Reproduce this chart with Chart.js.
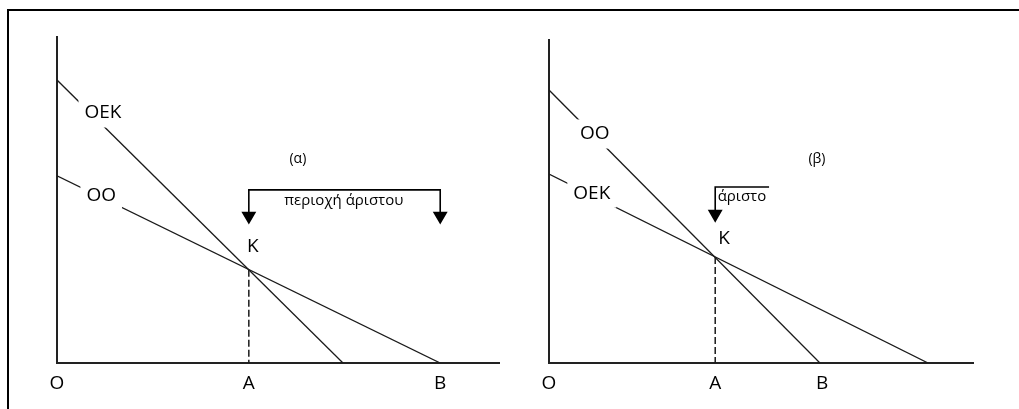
<!DOCTYPE html>
<html>
<head>
<meta charset="utf-8">
<script src="https://cdn.jsdelivr.net/npm/chart.js@4.4.0/dist/chart.umd.min.js"></script>
<style>
body{margin:0;background:#fff;width:1019px;height:409px;overflow:hidden;position:relative;}
#frame{position:absolute;left:7px;top:9px;width:1030px;height:420px;border-top:2px solid #000;border-left:2px solid #000;}
canvas{position:absolute;top:0;}
#chartA{left:0;}
#chartB{left:520px;}
</style>
</head>
<body>
<div id="frame"></div>
<canvas id="chartA" width="520" height="409"></canvas>
<canvas id="chartB" width="499" height="409"></canvas>
<script>
// panel (α): OEK steeper than OO
const ticksA = [0, 43.4, 86.7];
const tickLabelsA = ['O', 'A', 'B'];
const oekA = [{x: 0, y: 86.8}, {x: 64.7, y: 0}];
const ooA = [{x: 0, y: 57.4}, {x: 86.7, y: 0}];
const dropA = [{x: 43.4, y: 28.6}, {x: 43.4, y: 0}];
const bracketA = [{x: 43.4, y: 45.1}, {x: 43.4, y: 53.1}, {x: 86.7, y: 53.1}, {x: 86.7, y: 45.1}];
const arrowsA = [7, 0, 0, 7];

// panel (β): OO steeper than OEK
const ticksB = [0, 39.2, 64.4];
const tickLabelsB = ['O', 'A', 'B'];
const ooB = [{x: 0, y: 84.5}, {x: 63.9, y: 0}];
const oekB = [{x: 0, y: 58.5}, {x: 89.4, y: 0}];
const dropB = [{x: 39.2, y: 32.8}, {x: 39.2, y: 0}];
const bracketB = [{x: 39.2, y: 46.1}, {x: 39.2, y: 54.5}, {x: 51.9, y: 54.5}];
const arrowsB = [7, 0, 0];

// text on the diagrams (data units)
const notesA = [
    {text: 'OEK', x: 10.4, y: 76.7, size: 19, box: true},
    {text: 'OO', x: 10.0, y: 51.2, size: 19, box: true},
    {text: 'K', x: 44.3, y: 35.6, size: 19},
    {text: '(α)', x: 54.5, y: 62.6, size: 14},
    {text: 'περιοχή άριστου', x: 64.9, y: 49.7, size: 15}
];
const notesB = [
    {text: 'OO', x: 10.8, y: 70.9, size: 19, box: true},
    {text: 'OEK', x: 10.1, y: 52.6, size: 19, box: true},
    {text: 'K', x: 41.3, y: 38.4, size: 19},
    {text: '(β)', x: 63.2, y: 63.2, size: 14},
    {text: 'άριστο', x: 45.5, y: 51.4, size: 15}
];

const FONT = "'Open Sans', 'Noto Sans', sans-serif";

function notesPlugin(notes, ticks, tickLabels){
    return {
        id: 'notes',
        afterDraw(chart){
            let ctx = chart.ctx;
            let xs = chart.scales.x, ys = chart.scales.y;
            ctx.save();
            ctx.textAlign = 'center';
            ctx.textBaseline = 'middle';
            for(let n of notes){
                let px = xs.getPixelForValue(n.x);
                let py = ys.getPixelForValue(n.y);
                ctx.font = n.size + 'px ' + FONT;
                if(n.box){
                    let w = ctx.measureText(n.text).width;
                    ctx.fillStyle = '#fff';
                    ctx.fillRect(px - w/2 - 6, py - n.size*0.45 - 6, w + 12, n.size*0.9 + 12);
                }
                ctx.fillStyle = '#000';
                ctx.fillText(n.text, px, py);
            }
            // axis labels O, A, B under the x axis
            ctx.font = '19px ' + FONT;
            let base = ys.getPixelForValue(0);
            for(let i in ticks){
                ctx.fillText(tickLabels[i], xs.getPixelForValue(ticks[i]), base + 21);
            }
            ctx.restore();
        }
    };
}

function lineSet(data, extra){
    return Object.assign({
        data: data,
        showLine: true,
        borderColor: '#1a1a1a',
        borderWidth: 1.3,
        pointRadius: 0
    }, extra || {});
}

function bracketSet(data, radii){
    return lineSet(data, {
        borderColor: '#000', borderWidth: 1.6,
        pointStyle: 'triangle', rotation: 180,
        pointRadius: radii, pointBackgroundColor: '#000', pointBorderColor: '#000'
    });
}

function buildChart(id, pad, ticks, tickLabels, sets, notes){
    return new Chart(document.getElementById(id), {
        type: 'scatter',
        data: {datasets: sets},
        options: {
            responsive: false,
            animation: false,
            events: [],
            layout: {padding: pad},
            plugins: {legend: {display: false}, tooltip: {enabled: false}},
            scales: {
                x: {
                    type: 'linear', min: 0, max: 100,
                    grid: {display: false},
                    border: {display: true, color: '#222', width: 2},
                    afterFit: function(s){ s.height = 0; },
                    ticks: {display: false}
                },
                y: {
                    type: 'linear', min: 0, max: 100,
                    grid: {display: false},
                    border: {display: true, color: '#222', width: 2},
                    afterFit: function(s){ s.width = 0; },
                    ticks: {display: false}
                }
            }
        },
        plugins: [notesPlugin(notes, ticks, tickLabels)]
    });
}

buildChart('chartA', {left: 57, top: 37, right: 21, bottom: 46}, ticksA, tickLabelsA, [
    lineSet(oekA),
    lineSet(ooA),
    lineSet(dropA, {borderDash: [7, 3], borderWidth: 1.5}),
    bracketSet(bracketA, arrowsA)
], notesA);

buildChart('chartB', {left: 29, top: 40, right: 46, bottom: 46}, ticksB, tickLabelsB, [
    lineSet(ooB),
    lineSet(oekB),
    lineSet(dropB, {borderDash: [7, 3], borderWidth: 1.5}),
    bracketSet(bracketB, arrowsB)
], notesB);
</script>
</body>
</html>
